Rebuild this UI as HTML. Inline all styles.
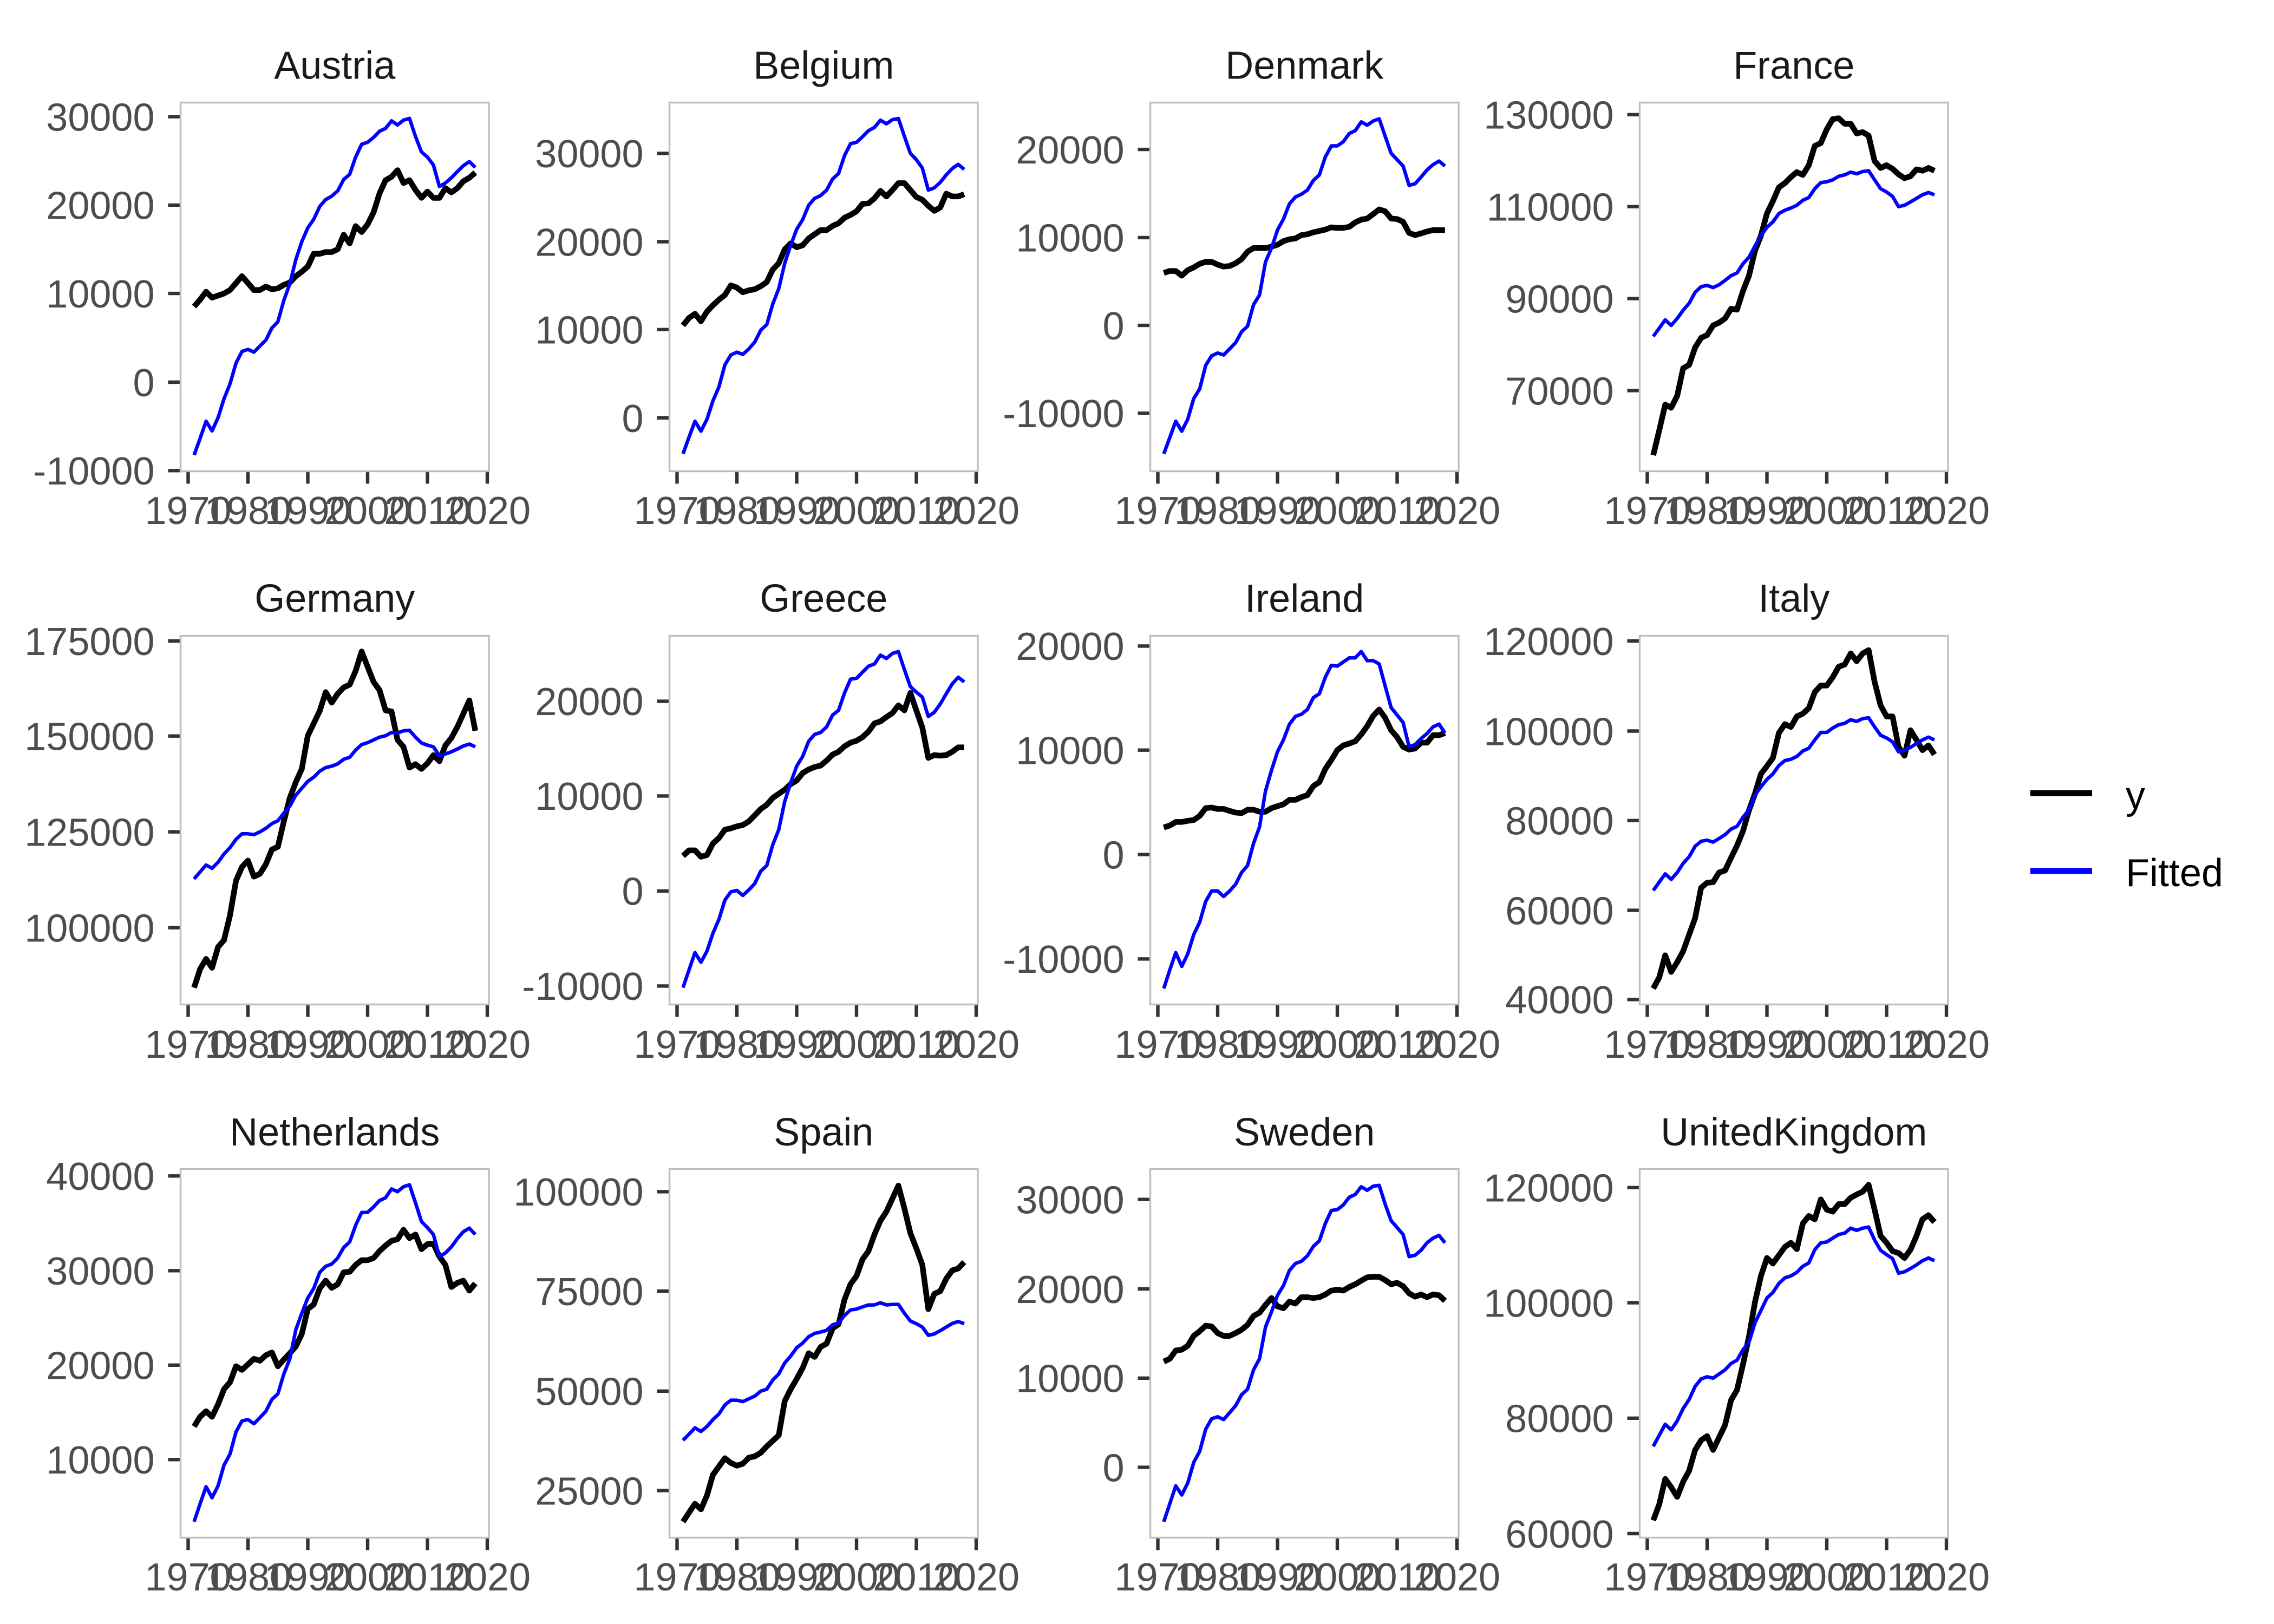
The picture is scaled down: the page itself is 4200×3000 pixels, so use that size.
<!DOCTYPE html>
<html><head><meta charset="utf-8"><style>
html,body{margin:0;padding:0;background:#fff;}
svg{display:block;}
text{font-family:"Liberation Sans",Arial,sans-serif;font-size:72px;}
.yl{fill:#4D4D4D;text-anchor:end;}
.xl{fill:#4D4D4D;text-anchor:middle;}
.st{fill:#1A1A1A;text-anchor:middle;}
.box{fill:none;stroke:#BEBEBE;stroke-width:3.4;}
.tk{fill:none;stroke:#333333;stroke-width:6.4;}
.k{fill:none;stroke:#000;stroke-width:10.5;stroke-linejoin:round;vector-effect:non-scaling-stroke;}
.b{fill:none;stroke:#0000FF;stroke-width:6.5;stroke-linejoin:round;vector-effect:non-scaling-stroke;}
</style></head><body>
<svg width="4200" height="3000" viewBox="0 0 4200 3000" xmlns="http://www.w3.org/2000/svg">
<rect x="0" y="0" width="4200" height="3000" fill="#fff"/>

<!-- strip titles -->
<text class="st" x="618.25" y="145.5">Austria</text>
<text class="st" x="1521.25" y="145.5">Belgium</text>
<text class="st" x="2409.25" y="145.5">Denmark</text>
<text class="st" x="3313.25" y="145.5">France</text>
<text class="st" x="618.25" y="1130">Germany</text>
<text class="st" x="1521.25" y="1130">Greece</text>
<text class="st" x="2409.25" y="1130">Ireland</text>
<text class="st" x="3313.25" y="1130">Italy</text>
<text class="st" x="618.25" y="2116">Netherlands</text>
<text class="st" x="1521.25" y="2116">Spain</text>
<text class="st" x="2409.25" y="2116">Sweden</text>
<text class="st" x="3313.25" y="2116">UnitedKingdom</text>

<!-- x ticks -->
<path class="tk" d="
M347.5,870.5v23M458,870.5v23M568.5,870.5v23M679,870.5v23M789.5,870.5v23M900,870.5v23
M1250.5,870.5v23M1361,870.5v23M1471.5,870.5v23M1582,870.5v23M1692.5,870.5v23M1803,870.5v23
M2138.5,870.5v23M2249,870.5v23M2359.5,870.5v23M2470,870.5v23M2580.5,870.5v23M2691,870.5v23
M3042.5,870.5v23M3153,870.5v23M3263.5,870.5v23M3374,870.5v23M3484.5,870.5v23M3595,870.5v23
M347.5,1855.5v23M458,1855.5v23M568.5,1855.5v23M679,1855.5v23M789.5,1855.5v23M900,1855.5v23
M1250.5,1855.5v23M1361,1855.5v23M1471.5,1855.5v23M1582,1855.5v23M1692.5,1855.5v23M1803,1855.5v23
M2138.5,1855.5v23M2249,1855.5v23M2359.5,1855.5v23M2470,1855.5v23M2580.5,1855.5v23M2691,1855.5v23
M3042.5,1855.5v23M3153,1855.5v23M3263.5,1855.5v23M3374,1855.5v23M3484.5,1855.5v23M3595,1855.5v23
M347.5,2840.5v23M458,2840.5v23M568.5,2840.5v23M679,2840.5v23M789.5,2840.5v23M900,2840.5v23
M1250.5,2840.5v23M1361,2840.5v23M1471.5,2840.5v23M1582,2840.5v23M1692.5,2840.5v23M1803,2840.5v23
M2138.5,2840.5v23M2249,2840.5v23M2359.5,2840.5v23M2470,2840.5v23M2580.5,2840.5v23M2691,2840.5v23
M3042.5,2840.5v23M3153,2840.5v23M3263.5,2840.5v23M3374,2840.5v23M3484.5,2840.5v23M3595,2840.5v23"/>

<!-- x labels -->
<g class="xl">
<text x="347.5" y="968" class="xl">1970</text><text x="458" y="968" class="xl">1980</text><text x="568.5" y="968" class="xl">1990</text><text x="679" y="968" class="xl">2000</text><text x="789.5" y="968" class="xl">2010</text><text x="900" y="968" class="xl">2020</text>
<text x="1250.5" y="968" class="xl">1970</text><text x="1361" y="968" class="xl">1980</text><text x="1471.5" y="968" class="xl">1990</text><text x="1582" y="968" class="xl">2000</text><text x="1692.5" y="968" class="xl">2010</text><text x="1803" y="968" class="xl">2020</text>
<text x="2138.5" y="968" class="xl">1970</text><text x="2249" y="968" class="xl">1980</text><text x="2359.5" y="968" class="xl">1990</text><text x="2470" y="968" class="xl">2000</text><text x="2580.5" y="968" class="xl">2010</text><text x="2691" y="968" class="xl">2020</text>
<text x="3042.5" y="968" class="xl">1970</text><text x="3153" y="968" class="xl">1980</text><text x="3263.5" y="968" class="xl">1990</text><text x="3374" y="968" class="xl">2000</text><text x="3484.5" y="968" class="xl">2010</text><text x="3595" y="968" class="xl">2020</text>

<text x="347.5" y="1954" class="xl">1970</text><text x="458" y="1954" class="xl">1980</text><text x="568.5" y="1954" class="xl">1990</text><text x="679" y="1954" class="xl">2000</text><text x="789.5" y="1954" class="xl">2010</text><text x="900" y="1954" class="xl">2020</text>
<text x="1250.5" y="1954" class="xl">1970</text><text x="1361" y="1954" class="xl">1980</text><text x="1471.5" y="1954" class="xl">1990</text><text x="1582" y="1954" class="xl">2000</text><text x="1692.5" y="1954" class="xl">2010</text><text x="1803" y="1954" class="xl">2020</text>
<text x="2138.5" y="1954" class="xl">1970</text><text x="2249" y="1954" class="xl">1980</text><text x="2359.5" y="1954" class="xl">1990</text><text x="2470" y="1954" class="xl">2000</text><text x="2580.5" y="1954" class="xl">2010</text><text x="2691" y="1954" class="xl">2020</text>
<text x="3042.5" y="1954" class="xl">1970</text><text x="3153" y="1954" class="xl">1980</text><text x="3263.5" y="1954" class="xl">1990</text><text x="3374" y="1954" class="xl">2000</text><text x="3484.5" y="1954" class="xl">2010</text><text x="3595" y="1954" class="xl">2020</text>

<text x="347.5" y="2938" class="xl">1970</text><text x="458" y="2938" class="xl">1980</text><text x="568.5" y="2938" class="xl">1990</text><text x="679" y="2938" class="xl">2000</text><text x="789.5" y="2938" class="xl">2010</text><text x="900" y="2938" class="xl">2020</text>
<text x="1250.5" y="2938" class="xl">1970</text><text x="1361" y="2938" class="xl">1980</text><text x="1471.5" y="2938" class="xl">1990</text><text x="1582" y="2938" class="xl">2000</text><text x="1692.5" y="2938" class="xl">2010</text><text x="1803" y="2938" class="xl">2020</text>
<text x="2138.5" y="2938" class="xl">1970</text><text x="2249" y="2938" class="xl">1980</text><text x="2359.5" y="2938" class="xl">1990</text><text x="2470" y="2938" class="xl">2000</text><text x="2580.5" y="2938" class="xl">2010</text><text x="2691" y="2938" class="xl">2020</text>
<text x="3042.5" y="2938" class="xl">1970</text><text x="3153" y="2938" class="xl">1980</text><text x="3263.5" y="2938" class="xl">1990</text><text x="3374" y="2938" class="xl">2000</text><text x="3484.5" y="2938" class="xl">2010</text><text x="3595" y="2938" class="xl">2020</text>
</g>

<!-- y ticks -->
<path class="tk" d="
M310.5,215.6h23M310.5,378.9h23M310.5,542.1h23M310.5,706h23M310.5,869.3h23
M1213.5,283.3h23M1213.5,446.5h23M1213.5,608.8h23M1213.5,772h23
M2101.5,276.1h23M2101.5,438.9h23M2101.5,601.1h23M2101.5,763.4h23
M3005.5,211.8h23M3005.5,381.7h23M3005.5,551.6h23M3005.5,721.5h23
M310.5,1184.2h23M310.5,1359.7h23M310.5,1536.7h23M310.5,1713.8h23
M1213.5,1295.4h23M1213.5,1470.4h23M1213.5,1645.9h23M1213.5,1821.4h23
M2101.5,1193.4h23M2101.5,1385.7h23M2101.5,1578.6h23M2101.5,1771.4h23
M3005.5,1184.2h23M3005.5,1350.5h23M3005.5,1515.8h23M3005.5,1681.6h23M3005.5,1846.4h23
M310.5,2172.3h23M310.5,2347.3h23M310.5,2521.8h23M310.5,2696.3h23
M1213.5,2201.4h23M1213.5,2385.1h23M1213.5,2569.8h23M1213.5,2753.5h23
M2101.5,2215.7h23M2101.5,2381h23M2101.5,2545.8h23M2101.5,2710.6h23
M3005.5,2193.8h23M3005.5,2406.5h23M3005.5,2619.8h23M3005.5,2833h23"/>

<!-- y labels -->
<text class="yl" x="285.5" y="241.4">30000</text>
<text class="yl" x="285.5" y="404.7">20000</text>
<text class="yl" x="285.5" y="567.9">10000</text>
<text class="yl" x="285.5" y="731.8">0</text>
<text class="yl" x="285.5" y="895.1">-10000</text>

<text class="yl" x="1188.5" y="309.1">30000</text>
<text class="yl" x="1188.5" y="472.3">20000</text>
<text class="yl" x="1188.5" y="634.6">10000</text>
<text class="yl" x="1188.5" y="797.8">0</text>

<text class="yl" x="2076.5" y="301.9">20000</text>
<text class="yl" x="2076.5" y="464.7">10000</text>
<text class="yl" x="2076.5" y="626.9">0</text>
<text class="yl" x="2076.5" y="789.2">-10000</text>

<text class="yl" x="2980.5" y="237.6">130000</text>
<text class="yl" x="2980.5" y="407.5">110000</text>
<text class="yl" x="2980.5" y="577.4">90000</text>
<text class="yl" x="2980.5" y="747.3">70000</text>

<text class="yl" x="285.5" y="1210">175000</text>
<text class="yl" x="285.5" y="1385.5">150000</text>
<text class="yl" x="285.5" y="1562.5">125000</text>
<text class="yl" x="285.5" y="1739.6">100000</text>

<text class="yl" x="1188.5" y="1321.2">20000</text>
<text class="yl" x="1188.5" y="1496.2">10000</text>
<text class="yl" x="1188.5" y="1671.7">0</text>
<text class="yl" x="1188.5" y="1847.2">-10000</text>

<text class="yl" x="2076.5" y="1219.2">20000</text>
<text class="yl" x="2076.5" y="1411.5">10000</text>
<text class="yl" x="2076.5" y="1604.4">0</text>
<text class="yl" x="2076.5" y="1797.2">-10000</text>

<text class="yl" x="2980.5" y="1210">120000</text>
<text class="yl" x="2980.5" y="1376.3">100000</text>
<text class="yl" x="2980.5" y="1541.6">80000</text>
<text class="yl" x="2980.5" y="1707.4">60000</text>
<text class="yl" x="2980.5" y="1872.2">40000</text>

<text class="yl" x="285.5" y="2198.1">40000</text>
<text class="yl" x="285.5" y="2373.1">30000</text>
<text class="yl" x="285.5" y="2547.6">20000</text>
<text class="yl" x="285.5" y="2722.1">10000</text>

<text class="yl" x="1188.5" y="2227.2">100000</text>
<text class="yl" x="1188.5" y="2410.9">75000</text>
<text class="yl" x="1188.5" y="2595.6">50000</text>
<text class="yl" x="1188.5" y="2779.3">25000</text>

<text class="yl" x="2076.5" y="2241.5">30000</text>
<text class="yl" x="2076.5" y="2406.8">20000</text>
<text class="yl" x="2076.5" y="2571.6">10000</text>
<text class="yl" x="2076.5" y="2736.4">0</text>

<text class="yl" x="2980.5" y="2219.6">120000</text>
<text class="yl" x="2980.5" y="2432.3">100000</text>
<text class="yl" x="2980.5" y="2645.6">80000</text>
<text class="yl" x="2980.5" y="2858.8">60000</text>

<!-- data: Austria -->
<g transform="translate(358.5,0) scale(11.05,0.6378)">
<polyline class="k" vector-effect="non-scaling-stroke" points="0,888 1,868 2,845 3,862 4,856 5,850 6,840 7,820 8,800 9,820 10,840 11,840 12,830 13,838 14,835 15,825 16,818 17,800 18,787 19,772 20,735 21,735 22,730 23,730 24,722 25,680 26,705 27,655 28,672 29,650 30,615 31,560 32,522 33,512 34,493 35,530 36,522 37,550 38,573 39,555 40,573 41,573 42,545 43,557 44,545 45,525 46,515 47,500"/>
<polyline class="b" vector-effect="non-scaling-stroke" points="0,1318 1,1270 2,1220 3,1248 4,1210 5,1155 6,1112 7,1052 8,1018 9,1012 10,1020 11,1002 12,985 13,950 14,932 15,870 16,822 17,752 18,700 19,660 20,635 21,598 22,578 23,568 24,553 25,520 26,505 27,455 28,418 29,412 30,398 31,380 32,372 33,350 34,362 35,348 36,343 37,395 38,440 39,455 40,478 41,540 42,530 43,515 44,497 45,480 46,468 47,485"/>
</g>
<!-- Belgium -->
<g transform="translate(1261.5,170) scale(11.05,0.5102)">
<polyline class="k" vector-effect="non-scaling-stroke" points="0,845 1,818 2,803 3,830 4,795 5,772 6,752 7,735 8,700 9,708 10,725 11,718 12,714 13,703 14,688 15,643 16,620 17,570 18,548 19,562 20,555 21,530 22,515 23,500 24,500 25,485 26,475 27,455 28,445 29,432 30,405 31,403 32,385 33,358 34,378 35,355 36,330 37,330 38,355 39,380 40,390 41,412 42,430 43,418 44,368 45,378 46,378 47,370"/>
<polyline class="b" vector-effect="non-scaling-stroke" points="0,1310 1,1250 2,1192 3,1228 4,1185 5,1118 6,1068 7,988 8,952 9,942 10,950 11,930 12,905 13,862 14,842 15,768 16,712 17,620 18,555 19,497 20,462 21,410 22,385 23,375 24,355 25,315 26,295 27,230 28,187 29,182 30,162 31,140 32,128 33,102 34,115 35,100 36,96 37,160 38,222 39,245 40,275 41,355 42,347 43,327 44,300 45,277 46,262 47,280"/>
</g>
<!-- Denmark -->
<g transform="translate(2149.5,170) scale(11.05,0.5102)">
<polyline class="k" vector-effect="non-scaling-stroke" points="0,655 1,648 2,648 3,665 4,645 5,635 6,622 7,615 8,615 9,625 10,632 11,630 12,620 13,605 14,578 15,565 16,565 17,565 18,560 19,553 20,540 21,533 22,530 23,518 24,515 25,508 26,503 27,498 28,490 29,492 30,492 31,488 32,472 33,462 34,458 35,442 36,425 37,432 38,458 39,460 40,470 41,510 42,518 43,512 44,505 45,500 46,500 47,500"/>
<polyline class="b" vector-effect="non-scaling-stroke" points="0,1310 1,1251 2,1192 3,1228 4,1185 5,1110 6,1075 7,990 8,955 9,945 10,952 11,930 12,908 13,868 14,848 15,770 16,735 17,615 18,565 19,500 20,460 21,405 22,380 23,370 24,355 25,320 26,300 27,235 28,195 29,195 30,180 31,150 32,140 33,108 34,120 35,105 36,97 37,160 38,222 39,245 40,268 41,338 42,332 43,308 44,282 45,263 46,250 47,268"/>
</g>
<!-- France -->
<g transform="translate(3053.5,170) scale(11.05,0.5102)">
<polyline class="k" vector-effect="non-scaling-stroke" points="0,1315 1,1225 2,1132 3,1143 4,1100 5,1000 6,988 7,925 8,890 9,880 10,845 11,835 12,820 13,785 14,788 15,720 16,665 17,575 18,520 19,440 20,395 21,345 22,330 23,308 24,290 25,300 26,265 27,195 28,185 29,135 30,98 31,95 32,115 33,115 34,150 35,145 36,158 37,250 38,275 39,265 40,278 41,298 42,312 43,305 44,280 45,285 46,275 47,285"/>
<polyline class="b" vector-effect="non-scaling-stroke" points="0,885 1,855 2,825 3,845 4,820 5,790 6,765 7,725 8,705 9,700 10,708 11,698 12,682 13,665 14,655 15,622 16,598 17,558 18,520 19,490 20,470 21,440 22,428 23,420 24,410 25,392 26,382 27,350 28,328 29,325 30,318 31,305 32,300 33,290 34,296 35,288 36,285 37,318 38,350 39,362 40,378 41,415 42,410 43,398 44,385 45,372 46,364 47,372"/>
</g>
<!-- Germany -->
<g transform="translate(358.5,1150) scale(11.05,0.5102)">
<polyline class="k" vector-effect="non-scaling-stroke" points="0,1322 1,1255 2,1218 3,1250 4,1175 5,1150 6,1060 7,935 8,885 9,862 10,920 11,910 12,875 13,822 14,812 15,720 16,635 17,578 18,530 19,410 20,365 21,320 22,252 23,290 24,258 25,235 26,225 27,175 28,105 29,160 30,215 31,245 32,318 33,322 34,425 35,450 36,525 37,513 38,530 39,510 40,480 41,502 42,445 43,418 44,378 45,330 46,282 47,392"/>
<polyline class="b" vector-effect="non-scaling-stroke" points="0,928 1,903 2,878 3,890 4,868 5,838 6,815 7,785 8,765 9,765 10,768 11,758 12,745 13,728 14,718 15,690 16,665 17,625 18,600 19,575 20,560 21,538 22,525 23,520 24,512 25,495 26,488 27,462 28,442 29,435 30,425 31,415 32,410 33,398 34,400 35,392 36,390 37,415 38,436 39,444 40,450 41,482 42,476 43,468 44,458 45,447 46,440 47,450"/>
</g>
<!-- Greece -->
<g transform="translate(1261.5,1150) scale(11.05,0.5102)">
<polyline class="k" vector-effect="non-scaling-stroke" points="0,845 1,825 2,825 3,848 4,842 5,800 6,780 7,750 8,745 9,738 10,733 11,720 12,698 13,675 14,660 15,635 16,620 17,605 18,585 19,572 20,545 21,532 22,523 23,518 24,500 25,478 26,468 27,448 28,435 29,428 30,415 31,395 32,365 33,358 34,342 35,328 36,300 37,318 38,255 39,318 40,380 41,490 42,480 43,482 44,480 45,468 46,452 47,452"/>
<polyline class="b" vector-effect="non-scaling-stroke" points="0,1322 1,1258 2,1195 3,1230 4,1190 5,1125 6,1075 7,1005 8,975 9,970 10,988 11,968 12,945 13,900 14,880 15,805 16,750 17,648 18,580 19,520 20,485 21,430 22,405 23,398 24,378 25,335 26,318 27,255 28,205 29,202 30,180 31,158 32,150 33,118 34,130 35,112 36,105 37,170 38,232 39,252 40,270 41,340 42,325 43,295 44,258 45,222 46,198 47,215"/>
</g>
<!-- Ireland -->
<g transform="translate(2149.5,1150) scale(11.05,0.5102)">
<polyline class="k" vector-effect="non-scaling-stroke" points="0,742 1,735 2,722 3,722 4,718 5,715 6,700 7,672 8,670 9,675 10,675 11,682 12,688 13,690 14,678 15,678 16,685 17,685 18,672 19,665 20,658 21,642 22,642 23,632 24,625 25,592 26,578 27,530 28,498 29,462 30,445 31,438 32,430 33,405 34,375 35,338 36,315 37,345 38,390 39,415 40,450 41,460 42,456 43,435 44,435 45,408 46,408 47,400"/>
<polyline class="b" vector-effect="non-scaling-stroke" points="0,1325 1,1258 2,1195 3,1245 4,1200 5,1130 6,1085 7,1010 8,972 9,972 10,992 11,972 12,948 13,905 14,880 15,800 16,740 17,610 18,535 19,468 20,425 21,368 22,340 23,332 24,315 25,272 26,258 27,198 28,155 29,158 30,143 31,128 32,128 33,105 34,138 35,138 36,150 37,230 38,308 39,335 40,362 41,450 42,442 43,420 44,402 45,378 46,368 47,400"/>
</g>
<!-- Italy -->
<g transform="translate(3053.5,1150) scale(11.05,0.5102)">
<polyline class="k" vector-effect="non-scaling-stroke" points="0,1325 1,1285 2,1205 3,1265 4,1230 5,1190 6,1130 7,1070 8,960 9,942 10,940 11,905 12,898 13,852 14,808 15,755 16,680 17,620 18,548 19,520 20,490 21,400 22,368 23,378 24,340 25,330 26,310 27,252 28,228 29,228 30,198 31,160 32,152 33,112 34,140 35,112 36,100 37,215 38,300 39,340 40,340 41,450 42,482 43,390 44,425 45,462 46,445 47,478"/>
<polyline class="b" vector-effect="non-scaling-stroke" points="0,970 1,940 2,910 3,930 4,905 5,872 6,848 7,810 8,792 9,788 10,795 11,782 12,768 13,748 14,738 15,705 16,678 17,625 18,595 19,568 20,548 21,518 22,500 23,495 24,485 25,465 26,455 27,425 28,398 29,398 30,382 31,370 32,365 33,352 34,358 35,348 36,345 37,378 38,408 39,418 40,432 41,468 42,462 43,452 44,438 45,425 46,415 47,425"/>
</g>
<!-- Netherlands -->
<g transform="translate(358.5,2130) scale(11.05,0.5102)">
<polyline class="k" vector-effect="non-scaling-stroke" points="0,990 1,955 2,935 3,955 4,910 5,855 6,830 7,772 8,785 9,765 10,745 11,752 12,732 13,722 14,772 15,748 16,725 17,700 18,655 19,565 20,548 21,490 22,462 23,488 24,475 25,432 26,430 27,405 28,388 29,388 30,380 31,355 32,335 33,318 34,312 35,278 36,308 37,295 38,348 39,330 40,328 41,375 42,405 43,485 44,470 45,462 46,498 47,472"/>
<polyline class="b" vector-effect="non-scaling-stroke" points="0,1335 1,1270 2,1208 3,1248 4,1205 5,1130 6,1090 7,1010 8,970 9,965 10,980 11,958 12,935 13,892 14,872 15,800 16,745 17,640 18,580 19,525 20,490 21,432 22,410 23,402 24,380 25,342 26,322 27,262 28,215 29,215 30,195 31,172 32,162 33,130 34,140 35,122 36,115 37,180 38,248 39,270 40,295 41,375 42,362 43,340 44,310 45,285 46,272 47,295"/>
</g>
<!-- Spain -->
<g transform="translate(1261.5,2130) scale(11.05,0.5102)">
<polyline class="k" vector-effect="non-scaling-stroke" points="0,1335 1,1302 2,1270 3,1290 4,1240 5,1165 6,1135 7,1105 8,1122 9,1132 10,1125 11,1103 12,1098 13,1085 14,1062 15,1042 16,1022 17,898 18,855 19,818 20,778 21,725 22,738 23,702 24,690 25,635 26,620 27,530 28,475 29,445 30,385 31,355 32,295 33,245 34,212 35,165 36,118 37,200 38,290 39,345 40,405 41,565 42,510 43,500 44,455 45,425 46,418 47,395"/>
<polyline class="b" vector-effect="non-scaling-stroke" points="0,1040 1,1018 2,995 3,1008 4,990 5,965 6,945 7,912 8,895 9,895 10,900 11,890 12,880 13,862 14,855 15,822 16,800 17,760 18,735 19,705 20,688 21,665 22,653 23,648 24,642 25,622 26,615 27,588 28,568 29,565 30,557 31,550 32,550 33,542 34,550 35,548 36,548 37,580 38,608 39,618 40,630 41,660 42,655 43,643 44,630 45,617 46,610 47,618"/>
</g>
<!-- Sweden -->
<g transform="translate(2149.5,2130) scale(11.05,0.5102)">
<polyline class="k" vector-effect="non-scaling-stroke" points="0,755 1,745 2,715 3,712 4,698 5,662 6,645 7,625 8,628 9,652 10,662 11,662 12,652 13,640 14,622 15,590 16,578 17,550 18,525 19,555 20,562 21,538 22,545 23,522 24,522 25,525 26,522 27,512 28,498 29,495 30,498 31,485 32,475 33,462 34,450 35,448 36,448 37,460 38,475 39,470 40,482 41,508 42,520 43,512 44,522 45,512 46,515 47,535"/>
<polyline class="b" vector-effect="non-scaling-stroke" points="0,1335 1,1270 2,1205 3,1238 4,1195 5,1120 6,1080 7,1000 8,962 9,955 10,965 11,940 12,915 13,875 14,855 15,785 16,745 17,630 18,575 19,515 20,480 21,425 22,400 23,392 24,372 25,338 26,318 27,255 28,208 29,205 30,188 31,160 32,150 33,122 34,135 35,120 36,117 37,185 38,245 39,270 40,295 41,375 42,370 43,352 44,325 45,308 46,298 47,325"/>
</g>
<!-- UnitedKingdom -->
<g transform="translate(3053.5,2130) scale(11.05,0.5102)">
<polyline class="k" vector-effect="non-scaling-stroke" points="0,1330 1,1272 2,1180 3,1210 4,1245 5,1190 6,1150 7,1075 8,1040 9,1025 10,1075 11,1030 12,985 13,895 14,858 15,765 16,665 17,540 18,445 19,380 20,400 21,370 22,340 23,325 24,348 25,255 26,228 27,240 28,168 29,205 30,212 31,185 32,185 33,162 34,150 35,140 36,115 37,205 38,300 39,325 40,355 41,362 42,380 43,350 44,300 45,240 46,225 47,250"/>
<polyline class="b" vector-effect="non-scaling-stroke" points="0,1062 1,1022 2,982 3,1002 4,970 5,925 6,892 7,845 8,818 9,810 10,815 11,800 12,785 13,762 14,750 15,712 16,685 17,615 18,570 19,525 20,505 21,472 22,452 23,445 24,432 25,410 26,398 27,350 28,325 29,322 30,308 31,295 32,290 33,272 34,280 35,272 36,268 37,315 38,352 39,368 40,382 41,435 42,430 43,418 44,405 45,390 46,380 47,390"/>
</g>

<!-- panel borders -->
<rect class="box" x="333.5" y="189.5" width="569.5" height="681"/>
<rect class="box" x="1236.5" y="189.5" width="569.5" height="681"/>
<rect class="box" x="2124.5" y="189.5" width="569.5" height="681"/>
<rect class="box" x="3028.5" y="189.5" width="569.5" height="681"/>
<rect class="box" x="333.5" y="1174.5" width="569.5" height="681"/>
<rect class="box" x="1236.5" y="1174.5" width="569.5" height="681"/>
<rect class="box" x="2124.5" y="1174.5" width="569.5" height="681"/>
<rect class="box" x="3028.5" y="1174.5" width="569.5" height="681"/>
<rect class="box" x="333.5" y="2159.5" width="569.5" height="681"/>
<rect class="box" x="1236.5" y="2159.5" width="569.5" height="681"/>
<rect class="box" x="2124.5" y="2159.5" width="569.5" height="681"/>
<rect class="box" x="3028.5" y="2159.5" width="569.5" height="681"/>

<!-- legend -->
<line x1="3750" y1="1465" x2="3864" y2="1465" stroke="#000" stroke-width="11"/>
<line x1="3750" y1="1609" x2="3864" y2="1609" stroke="#0000FF" stroke-width="11"/>
<text x="3926" y="1494" fill="#000">y</text>
<text x="3926" y="1637" fill="#000">Fitted</text>
</svg>
</body></html>
